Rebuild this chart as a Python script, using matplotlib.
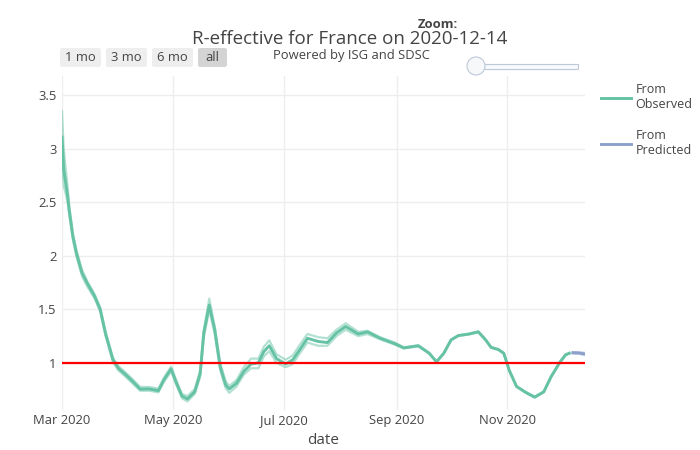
import numpy as np
import pandas as pd
import matplotlib
matplotlib.use('Agg')
import matplotlib.pyplot as plt
from matplotlib.patches import FancyBboxPatch, Ellipse, Rectangle

plt.rcParams['font.family'] = ['Open Sans', 'DejaVu Sans']

# DATOS
obs_fechas = ['2020-03-01', '2020-03-02', '2020-03-04', '2020-03-05', '2020-03-07',
              '2020-03-09', '2020-03-12', '2020-03-15', '2020-03-19', '2020-03-22',
              '2020-03-25', '2020-03-29', '2020-04-01', '2020-04-05', '2020-04-09',
              '2020-04-13', '2020-04-18', '2020-04-23', '2020-04-26', '2020-04-30',
              '2020-05-03', '2020-05-06', '2020-05-09', '2020-05-13', '2020-05-16',
              '2020-05-18', '2020-05-21', '2020-05-24', '2020-05-27', '2020-05-30',
              '2020-06-01', '2020-06-05', '2020-06-09', '2020-06-13', '2020-06-17',
              '2020-06-20', '2020-06-23', '2020-06-27', '2020-07-02', '2020-07-06',
              '2020-07-09', '2020-07-14', '2020-07-20', '2020-07-25', '2020-07-30',
              '2020-08-04', '2020-08-11', '2020-08-16', '2020-08-23', '2020-08-31',
              '2020-09-05', '2020-09-13', '2020-09-19', '2020-09-23', '2020-09-27',
              '2020-10-01', '2020-10-05', '2020-10-11', '2020-10-16', '2020-10-20',
              '2020-10-23', '2020-10-27', '2020-10-30', '2020-11-02', '2020-11-06',
              '2020-11-11', '2020-11-16', '2020-11-21', '2020-11-25', '2020-11-30',
              '2020-12-03', '2020-12-05']
obs_r = [3.11, 2.80, 2.57, 2.42, 2.18,
         2.02, 1.84, 1.74, 1.62, 1.50,
         1.27, 1.03, 0.95, 0.89, 0.825,
         0.755, 0.757, 0.74, 0.84, 0.944,
         0.81, 0.69, 0.664, 0.73, 0.90,
         1.28, 1.54, 1.31, 0.966, 0.795,
         0.757, 0.81, 0.92, 0.99, 1.00,
         1.105, 1.16, 1.04, 0.99, 1.03,
         1.105, 1.23, 1.20, 1.19, 1.28,
         1.34, 1.27, 1.29, 1.23, 1.18,
         1.14, 1.16, 1.09, 1.01, 1.09,
         1.215, 1.255, 1.27, 1.29, 1.215,
         1.145, 1.125, 1.09, 0.93, 0.78,
         0.725, 0.68, 0.73, 0.87, 1.01,
         1.075, 1.09]
obs_sup = [3.35, 2.98, 2.66, 2.47, 2.21,
           2.05, 1.87, 1.76, 1.64, 1.52,
           1.29, 1.05, 0.97, 0.91, 0.845,
           0.775, 0.775, 0.76, 0.86, 0.965,
           0.83, 0.71, 0.69, 0.755, 0.93,
           1.31, 1.60, 1.34, 1.00, 0.83,
           0.785, 0.84, 0.96, 1.04, 1.04,
           1.15, 1.21, 1.08, 1.03, 1.07,
           1.15, 1.27, 1.24, 1.23, 1.31,
           1.37, 1.29, 1.30, 1.24, 1.19,
           1.145, 1.165, 1.093, 1.013, 1.093,
           1.218, 1.258, 1.273, 1.293, 1.218,
           1.148, 1.128, 1.093, 0.933, 0.783,
           0.728, 0.683, 0.733, 0.873, 1.013,
           1.078, 1.093]
obs_inf = [2.88, 2.65, 2.51, 2.38, 2.15,
           1.99, 1.81, 1.71, 1.60, 1.48,
           1.25, 1.01, 0.93, 0.87, 0.805,
           0.74, 0.74, 0.725, 0.82, 0.92,
           0.79, 0.67, 0.64, 0.71, 0.87,
           1.24, 1.49, 1.27, 0.93, 0.765,
           0.72, 0.78, 0.89, 0.95, 0.95,
           1.06, 1.11, 1.00, 0.96, 0.99,
           1.07, 1.19, 1.16, 1.16, 1.25,
           1.31, 1.25, 1.27, 1.22, 1.17,
           1.135, 1.155, 1.087, 1.007, 1.087,
           1.212, 1.252, 1.267, 1.287, 1.212,
           1.142, 1.122, 1.087, 0.927, 0.777,
           0.722, 0.677, 0.727, 0.867, 1.007,
           1.072, 1.087]

pred_fechas = ['2020-12-07', '2020-12-10', '2020-12-13']
pred_r = [1.095, 1.093, 1.085]
pred_sup = [1.10, 1.10, 1.095]
pred_inf = [1.088, 1.086, 1.075]

obs_fechas = pd.to_datetime(obs_fechas)
pred_fechas = pd.to_datetime(pred_fechas)

verde = '#66c2a5'
azul = '#8da0cb'
gris = '#444444'

W, H = 700, 450
def fx(px):
    return px / W
def fy(py):
    return 1 - py / H

fig = plt.figure(figsize=(7, 4.5), dpi=100)
ax = fig.add_axes([fx(62), fy(410), (585 - 62) / W, (410 - 76) / H])

# bandas (lineas claras) y linea central
ax.plot(obs_fechas, obs_sup, color=verde, alpha=0.5, lw=1.6, solid_joinstyle='round')
ax.plot(obs_fechas, obs_inf, color=verde, alpha=0.5, lw=1.6, solid_joinstyle='round')
ax.plot(obs_fechas, obs_r, color=verde, lw=2.1, solid_joinstyle='round', label='From\nObserved')
ax.plot(pred_fechas, pred_sup, color=azul, alpha=0.5, lw=1.6)
ax.plot(pred_fechas, pred_inf, color=azul, alpha=0.5, lw=1.6)
ax.plot(pred_fechas, pred_r, color=azul, lw=2.1, label='From\nPredicted')

ax.axhline(1, color='red', lw=1.6)

ax.set_xlim(pd.Timestamp('2020-03-01'), pd.Timestamp('2020-12-13 16:00'))
ax.set_ylim(0.56, 3.68)

xt = pd.to_datetime(['2020-03-01', '2020-05-01', '2020-07-01', '2020-09-01', '2020-11-01'])
ax.set_xticks(xt)
ax.set_xticklabels(['Mar 2020', 'May 2020', 'Jul 2020', 'Sep 2020', 'Nov 2020'])
yt = [1, 1.5, 2, 2.5, 3, 3.5]
ax.set_yticks(yt)
ax.set_yticklabels(['1', '1.5', '2', '2.5', '3', '3.5'])
ax.tick_params(length=0, labelsize=9.4, colors=gris)
ax.tick_params(axis='x', pad=3)
ax.tick_params(axis='y', pad=4)
for s in ax.spines.values():
    s.set_visible(False)
ax.grid(True, color='#eeeeee', lw=1)
ax.set_axisbelow(True)
ax.set_xlabel('date', fontsize=11, color=gris)
ax.xaxis.set_label_coords(0.5, -0.068)

ax.legend(loc='upper left', bbox_to_anchor=(1.03, 0.978), frameon=False,
          fontsize=9.0, labelcolor=gris, handlelength=2.4, labelspacing=1.45,
          handletextpad=0.4, borderaxespad=0, borderpad=0)

# textos de cabecera
fig.text(fx(350), fy(39), 'R-effective for France on 2020-12-14', ha='center',
         va='center', fontsize=13.5, color=gris)
fig.text(fx(351), fy(56), 'Powered by ISG and SDSC', ha='center', va='center',
         fontsize=9.4, color=gris)
fig.text(fx(438), fy(24), 'Zoom:', ha='center', va='center', fontsize=9.4,
         color=gris, fontweight='bold')

# botones de rango
botones = [('1 mo', 60, 101), ('3 mo', 106, 147), ('6 mo', 152, 193), ('all', 198, 227)]
for txt, x0, x1 in botones:
    fc = '#d4d4d4' if txt == 'all' else '#eeeeee'
    p = FancyBboxPatch((fx(x0), fy(67)), fx(x1 - x0), (67 - 48) / H,
                       boxstyle='round,pad=0,rounding_size=0.004',
                       transform=fig.transFigure, fc=fc, ec='none')
    fig.add_artist(p)
    fig.text(fx((x0 + x1) / 2), fy(57.5), txt, ha='center', va='center',
             fontsize=9.4, color=gris)

# deslizador
fig.add_artist(Rectangle((fx(476), fy(68.5)), fx(578 - 476), 5 / H,
                         transform=fig.transFigure, fc='#f8fafc', ec='#bec8d9', lw=0.8))
fig.add_artist(Ellipse((fx(476), fy(66)), 18 / W, 18 / H, transform=fig.transFigure,
                       fc='#f6f8fa', ec='#bec8d9', lw=0.8))

fig.savefig('out.png', dpi=100)
